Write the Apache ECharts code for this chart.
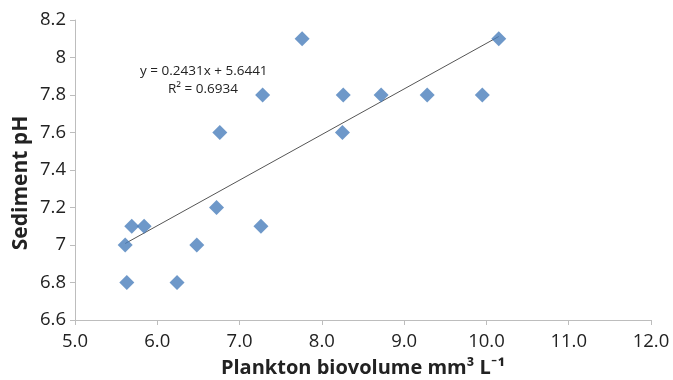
<!DOCTYPE html>
<html><head><meta charset="utf-8">
<script src="https://cdn.jsdelivr.net/npm/echarts@6/dist/echarts.min.js"></script>
<style>html,body{margin:0;padding:0;background:#fff}#c{width:673px;height:380px}</style>
</head><body><div id="c"></div>
<script>
const biovolume = [5.61, 5.63, 5.69, 5.84, 6.24, 6.48, 6.72, 6.76, 7.26, 7.28, 7.76, 8.25, 8.26, 8.72, 9.28, 9.95, 10.15];
const sedimentPH = [7.0, 6.8, 7.1, 7.1, 6.8, 7.0, 7.2, 7.6, 7.1, 7.8, 8.1, 7.6, 7.8, 7.8, 7.8, 7.8, 8.1];
const trendX = [5.61, 10.15];
const trendY = [7.008, 8.112];
const equationText = ["y = 0.2431x + 5.6441", "R\u00b2 = 0.6934"];
const xTitle = "Plankton biovolume mm\u00b3 L\u207b\u00b9";
const yTitle = "Sediment pH";

const chart = echarts.init(document.getElementById('c'), null, {renderer: 'canvas'});
const font = 'Open Sans, Lato, sans-serif';
chart.setOption({
  animation: false,
  grid: {left: 75, right: 22, top: 20, bottom: 60, containLabel: false, outerBoundsMode: 'none'},
  xAxis: {
    type: 'value', min: 5, max: 12, interval: 1,
    axisLine: {show: true, lineStyle: {color: '#bdbdbd'}},
    axisTick: {show: true, length: 5, lineStyle: {color: '#bdbdbd'}},
    splitLine: {show: false},
    axisLabel: {color: '#222', fontSize: 18.5, fontFamily: font, margin: 12, formatter: v => v.toFixed(1)}
  },
  yAxis: {
    type: 'value', min: 6.6, max: 8.2, interval: 0.2,
    axisLine: {show: true, lineStyle: {color: '#bdbdbd'}},
    axisTick: {show: true, length: 5, lineStyle: {color: '#bdbdbd'}},
    splitLine: {show: false},
    axisLabel: {color: '#222', fontSize: 18.5, fontFamily: font, margin: 9, formatter: v => String(Math.round(v*10)/10)}
  },
  series: [
    {
      type: 'line', data: trendX.map((x, i) => [x, trendY[i]]),
      symbol: 'none', lineStyle: {color: '#555', width: 1}, z: 1
    },
    {
      type: 'scatter', data: biovolume.map((x, i) => [x, sedimentPH[i]]),
      symbol: 'diamond', symbolSize: [15, 15],
      itemStyle: {color: '#4a7ebb'}, z: 2
    }
  ],
  graphic: [
    {type: 'text', left: 140, top: 64, style: {text: equationText[0], fontSize: 13.5, fontFamily: font, fill: '#222'}},
    {type: 'text', left: 168, top: 82, style: {text: equationText[1], fontSize: 13.5, fontFamily: font, fill: '#222'}},
    {type: 'text', x: 363, y: 368, style: {text: xTitle, align: 'center', verticalAlign: 'middle', fontSize: 20, fontWeight: 'bold', fontFamily: font, fill: '#222'}},
    {type: 'text', x: 21, y: 183, rotation: Math.PI / 2, style: {text: yTitle, align: 'center', verticalAlign: 'middle', fontSize: 21, fontWeight: 'bold', fontFamily: font, fill: '#222'}}
  ]
});
</script></body></html>
